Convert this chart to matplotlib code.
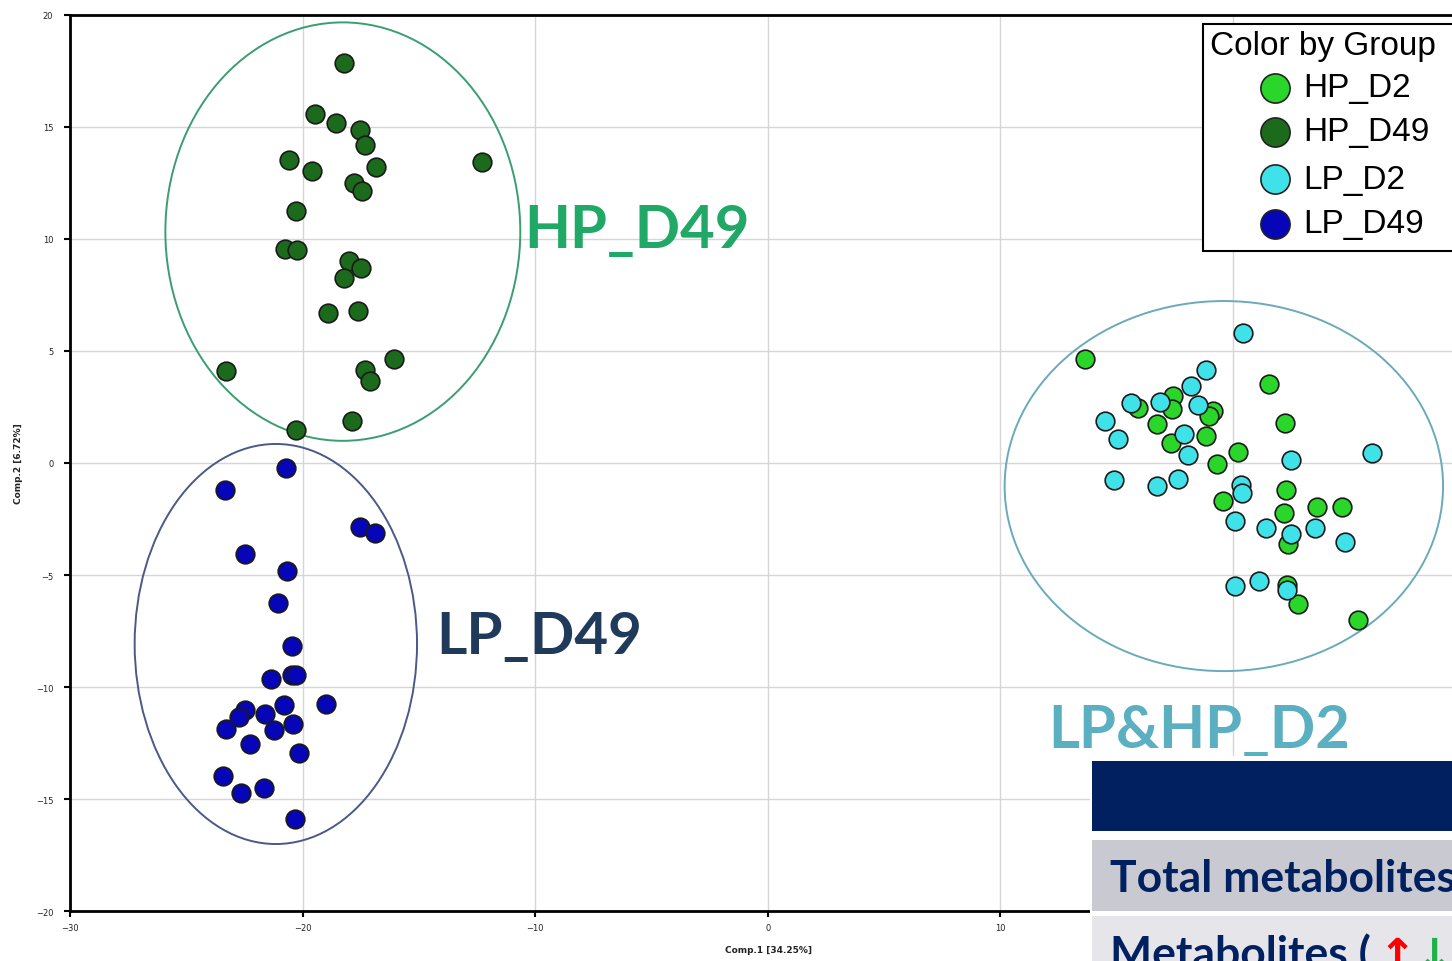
import matplotlib.pyplot as plt
from matplotlib.patches import Ellipse, Rectangle
from matplotlib.lines import Line2D

# PCA scores
hp_d49_x = [-18.22, -19.47, -18.58, -17.55, -17.30, -20.59, -19.60, -16.86, -12.27, -17.81,
            -17.45, -20.29, -20.75, -20.26, -18.02, -17.49, -18.22, -18.89, -17.60, -16.07,
            -23.31, -17.33, -17.12, -17.89, -20.30]
hp_d49_y = [17.84, 15.58, 15.18, 14.87, 14.20, 13.54, 13.02, 13.23, 13.42, 12.49,
            12.13, 11.26, 9.55, 9.51, 9.00, 8.71, 8.27, 6.70, 6.79, 4.64,
            4.12, 4.17, 3.67, 1.86, 1.47]

lp_d49_x = [-20.70, -23.32, -17.55, -16.90, -22.48, -20.66, -21.05, -20.47, -21.35, -20.47,
            -20.27, -19.00, -20.80, -22.49, -22.74, -21.62, -20.42, -23.28, -21.25, -22.24,
            -20.17, -23.44, -22.64, -21.68, -20.31]
lp_d49_y = [-0.22, -1.19, -2.84, -3.13, -4.06, -4.82, -6.24, -8.18, -9.64, -9.46,
            -9.46, -10.75, -10.79, -11.01, -11.35, -11.22, -11.65, -11.88, -11.92, -12.53,
            -12.95, -13.99, -14.73, -14.49, -15.89]

lp_d2_x = [20.42, 18.83, 18.19, 15.60, 16.86, 18.48, 14.51, 15.08, 17.91, 18.06,
           22.48, 25.97, 14.88, 16.74, 17.65, 20.33, 20.40, 20.11, 21.41, 22.48,
           23.51, 24.83, 20.09, 21.13, 22.34]
lp_d2_y = [5.82, 4.14, 3.42, 2.66, 2.71, 2.59, 1.86, 1.06, 1.29, 0.37,
           0.12, 0.45, -0.77, -1.04, -0.71, -0.98, -1.34, -2.57, -2.90, -3.15,
           -2.92, -3.54, -5.48, -5.25, -5.65]

hp_d2_x = [13.62, 21.56, 17.43, 15.93, 17.36, 19.15, 18.97, 16.72, 22.25, 18.84,
           17.33, 20.22, 19.32, 22.28, 19.58, 23.63, 24.67, 22.19, 22.38, 22.34,
           22.78, 25.36]
hp_d2_y = [4.63, 3.54, 2.98, 2.47, 2.41, 2.32, 2.08, 1.73, 1.80, 1.22,
           0.91, 0.51, -0.05, -1.19, -1.68, -1.98, -1.98, -2.25, -3.62, -5.45,
           -6.29, -7.00]

groups = ['HP_D2', 'HP_D49', 'LP_D2', 'LP_D49']
group_colors = ['#2ad62a', '#1c6b1c', '#40e2ea', '#0606b8']

# group ellipses: centre x, centre y, width, height
ellipse_specs = [(-18.27, 10.33, 15.26, 18.68, '#3a9e70'),
                 (-21.15, -8.08, 12.14, 17.86, '#4a5a88'),
                 (19.61, -1.03, 18.85, 16.52, '#6aaabb')]

W, H = 1452, 962
fig = plt.figure(figsize=(W / 100, H / 100), dpi=100)
ax = fig.add_axes([70 / W, 50 / H, (W - 70) / W, 896 / H])

ax.set_xlim(-30, (W - 768) / 23.25)
ax.set_ylim(-20, 20)
ax.set_xticks(range(-30, 30, 10))
ax.set_yticks(range(-20, 21, 5))
ax.grid(color='#d6d6d6', lw=1)
ax.set_axisbelow(True)
ax.tick_params(labelsize=6, labelcolor='#222222', length=4, width=1.5)
ax.tick_params(axis='x', pad=5)
ax.tick_params(axis='y', pad=8)
for s in ['left', 'bottom', 'top']:
    ax.spines[s].set_linewidth(2)
ax.spines['right'].set_visible(False)

ax.set_xlabel('Comp.1 [34.25%]', fontsize=6.5, fontweight='bold', color='#222222')
ax.set_ylabel('Comp.2 [6.72%]', fontsize=6.5, fontweight='bold', color='#222222')
ax.xaxis.set_label_coords((768 - 70) / 1382, -0.038)
ax.yaxis.set_label_coords(-0.034, 0.5)

for cx, cy, w, h, c in ellipse_specs:
    ax.add_patch(Ellipse((cx, cy), w, h, fill=False, ec=c, lw=1.4, zorder=2))

series = [(hp_d2_x, hp_d2_y), (hp_d49_x, hp_d49_y), (lp_d2_x, lp_d2_y), (lp_d49_x, lp_d49_y)]
for (xs, ys), c in zip(series, group_colors):
    ax.scatter(xs, ys, s=180, c=c, edgecolors='#1a1a1a', linewidths=1.2, zorder=3)

# cluster labels
ax.text(-10.45, 9.64, 'HP_D49', fontsize=43, fontweight='bold', family='Lato',
        color='#1fa866', va='baseline')
ax.text(-14.24, -8.48, 'LP_D49', fontsize=42, fontweight='bold', family='Lato',
        color='#1f3a5a', va='baseline')
ax.text(12.04, -12.68, 'LP&HP_D2', fontsize=43, fontweight='bold', family='Lato',
        color='#5aafc0', va='baseline')

# legend box (runs off the right edge like the source)
fig.add_artist(Rectangle((1203 / W, 1 - 252 / H), 300 / W, 227 / H, transform=fig.transFigure,
                         fc='white', ec='black', lw=1.5, zorder=5))
fig.text(1210 / W, 1 - 46 / H, 'Color by Group', fontsize=24, family='Liberation Sans',
         va='center', zorder=6)
for name, c, py in zip(groups, group_colors, [89, 133, 180, 225]):
    fig.add_artist(Line2D([1275 / W], [1 - py / H], marker='o', ms=21, mfc=c, mec='#222222',
                          mew=1.2, transform=fig.transFigure, zorder=6))
    fig.text(1303 / W, 1 - py / H, name, fontsize=24, family='Liberation Sans',
             va='center', zorder=6)

# table fragment at the bottom right
navy = '#002060'
fig.add_artist(Rectangle((1090 / W, 0), (W - 1090) / W, 205 / H, transform=fig.transFigure,
                         fc='white', ec='none', zorder=5))
fig.add_artist(Rectangle((1092 / W, 1 - 832 / H), (W - 1092) / W, 70 / H, transform=fig.transFigure,
                         fc=navy, ec='none', zorder=6))
fig.add_artist(Rectangle((1092 / W, 1 - 912 / H), (W - 1092) / W, 71 / H, transform=fig.transFigure,
                         fc='#c9c9d1', ec='none', zorder=6))
fig.add_artist(Rectangle((1092 / W, 0), (W - 1092) / W, 45 / H, transform=fig.transFigure,
                         fc='#e6e6ea', ec='none', zorder=6))
fig.text(1110 / W, 1 - 892 / H, 'Total metabolites', fontsize=32, fontweight='bold',
         family='Lato', color=navy, va='baseline', zorder=7)
fig.text(1110 / W, 1 - 968 / H, 'Metabolites (', fontsize=32, fontweight='bold',
         family='Lato', color=navy, va='baseline', zorder=7)
fig.text(1378 / W, 1 - 970 / H, '↑', fontsize=32, fontweight='bold', family='DejaVu Sans',
         color='#ff0000', va='baseline', zorder=7)
fig.text(1415 / W, 1 - 970 / H, '↓', fontsize=32, fontweight='bold', family='DejaVu Sans',
         color='#22b04a', va='baseline', zorder=7)

fig.savefig('out.png', dpi=100)
